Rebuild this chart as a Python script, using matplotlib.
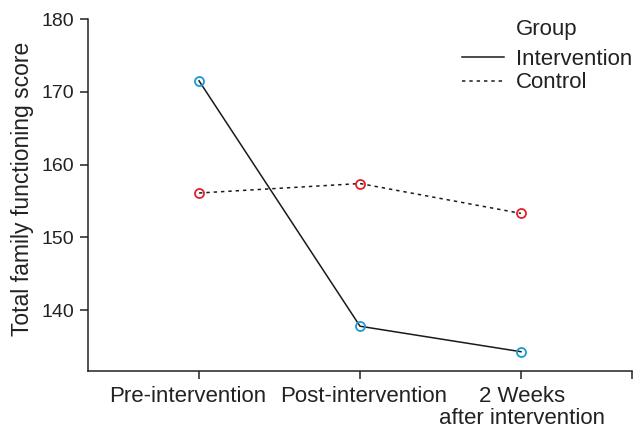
import matplotlib
matplotlib.use("Agg")
import matplotlib.pyplot as plt
import matplotlib.transforms as mtransforms
from matplotlib.lines import Line2D

# values
timepoints = ["Pre-intervention", "Post-intervention", "2 Weeks\nafter intervention"]
intervention = [171.5, 137.8, 134.3]
control = [156.1, 157.4, 153.3]
groups = ["Intervention", "Control"]

plt.rcParams['font.family'] = ['Liberation Sans', 'DejaVu Sans']

fig = plt.figure(figsize=(6.35, 4.3), dpi=100)
ax = fig.add_axes([0.1386, 0.1372, 0.8567, 0.8186])

x = [1, 2, 3]
ax.plot(x, intervention, color='#1a1a1a', lw=1.1, ls='-', label=groups[0],
        marker='o', ms=6.5, mfc='none', mec='#1a9ad6', mew=1.3)
ax.plot(x, control, color='#1a1a1a', lw=1.1, ls=(0, (2.2, 2.6)), label=groups[1],
        marker='o', ms=6.5, mfc='none', mec='#e3202a', mew=1.3)

ax.set_xlim(0.31, 3.69)
ax.set_ylim(131.65, 180)
ax.set_xticks([1, 2, 3, 3.69])
ax.set_xticklabels(timepoints + [""])
ax.set_yticks([140, 150, 160, 170, 180])

for s in ['top', 'right']:
    ax.spines[s].set_visible(False)
for s in ['left', 'bottom']:
    ax.spines[s].set_color('#222222')
    ax.spines[s].set_linewidth(1.1)
ax.tick_params(direction='out', length=6, width=1.1, color='#222222',
               labelcolor='#222222', pad=4)
ax.tick_params(axis='y', labelsize=14)
ax.tick_params(axis='x', labelsize=16, pad=5)

# the labels in the original sit a little off their ticks
shifts = [-11, 4, 1, 0]
for lbl, dx in zip(ax.get_xticklabels(), shifts):
    lbl.set_linespacing(1.05)
    lbl.set_transform(lbl.get_transform() +
                      mtransforms.ScaledTranslation(dx / 100, 0, fig.dpi_scale_trans))

ax.set_ylabel("Total family functioning score", fontsize=16.5, color='#222222')
ax.yaxis.set_label_coords(-0.099, 0.517)

# legend handles drawn without markers
handles = [Line2D([], [], color='#1a1a1a', lw=1.1, ls='-'),
           Line2D([], [], color='#1a1a1a', lw=1.1, ls=(0, (2.2, 2.6)))]
leg = ax.legend(handles, groups, title="Group", loc='upper right',
                bbox_to_anchor=(1.016, 1.024), frameon=False, fontsize=16,
                title_fontsize=16, handlelength=1.9, handletextpad=0.5,
                labelspacing=0.12, borderaxespad=0)
leg._legend_box.sep = 6
for t in leg.get_texts():
    t.set_color('#222222')
leg.get_title().set_color('#222222')

fig.savefig("out.png", dpi=100)
